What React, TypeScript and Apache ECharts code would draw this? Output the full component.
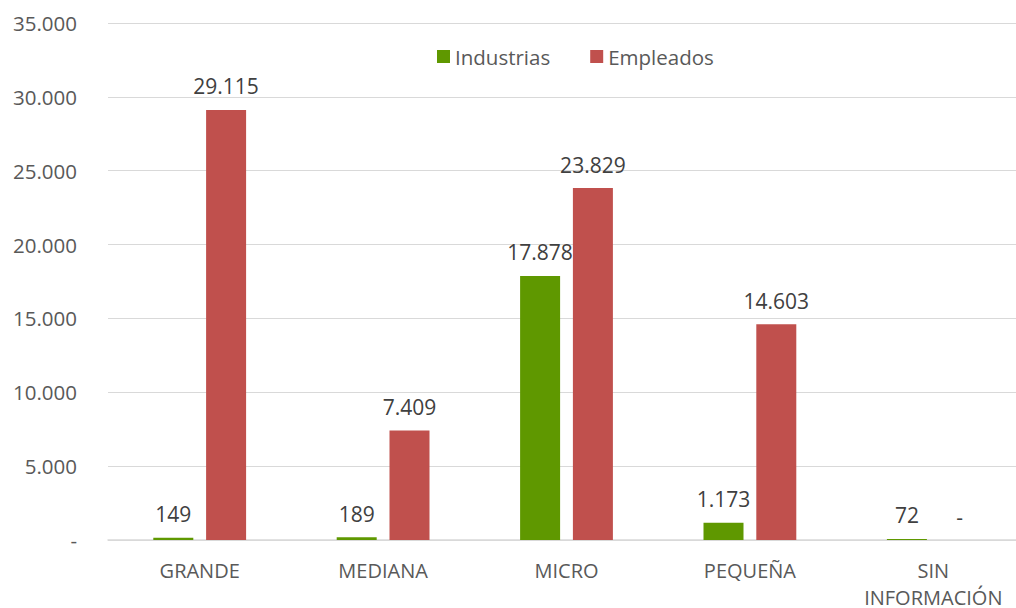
import React, { useEffect, useRef } from "react";
import * as echarts from "echarts";

const categories = ["GRANDE", "MEDIANA", "MICRO", "PEQUEÑA", "SIN\nINFORMACIÓN"];
const industrias = [149, 189, 17878, 1173, 72];
const empleados = [29115, 7409, 23829, 14603, 0];
const yTicks = [0, 5000, 10000, 15000, 20000, 25000, 30000, 35000];

const fmt = (v: number) => {
  if (!v) return "-";
  return String(Math.round(v)).replace(/\B(?=(\d{3})+(?!\d))/g, ".");
};

export default function App() {
  const ref = useRef<HTMLDivElement>(null);
  useEffect(() => {
    document.body.style.margin = "0";
    const chart = echarts.init(ref.current!, null, { renderer: "svg" });
    const font = "'Open Sans', sans-serif";
    chart.setOption({
      animation: false,
      backgroundColor: "#ffffff",
      legend: {
        top: 41,
        left: 432,
        itemWidth: 13,
        itemHeight: 13,
        itemGap: 40,
        icon: "rect",
        textStyle: { fontFamily: font, fontSize: 20.5, color: "#595959" },
        data: ["Industrias", "Empleados"],
      },
      grid: {
        left: 108,
        top: 23,
        width: 917,
        bottom: 68,
        containLabel: false,
        outerBoundsMode: "none",
      },
      xAxis: {
        type: "category",
        data: categories,
        axisTick: { show: false },
        axisLine: { lineStyle: { color: "#d9d9d9", width: 1.5 } },
        axisLabel: {
          fontFamily: font,
          fontSize: 20,
          color: "#595959",
          margin: 17,
          lineHeight: 27,
        },
      },
      yAxis: {
        type: "value",
        min: yTicks[0],
        max: yTicks[yTicks.length - 1],
        interval: 5000,
        axisLine: { show: false },
        axisTick: { show: false },
        splitLine: { lineStyle: { color: "#d9d9d9", width: 1 } },
        axisLabel: {
          fontFamily: font,
          fontSize: 20.5,
          color: "#595959",
          margin: 31,
          formatter: (v: number) => fmt(v),
        },
      },
      series: [
        {
          name: "Industrias",
          type: "bar",
          data: industrias,
          barWidth: 40,
          barGap: "32%",
          itemStyle: { color: "#5f9800" },
          label: {
            show: true,
            position: "top",
            distance: 13,
            fontFamily: font,
            fontSize: 21,
            color: "#404040",
            formatter: (p: any) => fmt(p.value),
          },
        },
        {
          name: "Empleados",
          type: "bar",
          data: empleados,
          barWidth: 40,
          itemStyle: { color: "#c0504d" },
          label: {
            show: true,
            position: "top",
            distance: 13,
            fontFamily: font,
            fontSize: 21,
            color: "#404040",
            formatter: (p: any) => fmt(p.value),
          },
        },
      ],
    });
    return () => chart.dispose();
  }, []);
  return <div ref={ref} style={{ width: 1016, height: 608 }} />;
}
